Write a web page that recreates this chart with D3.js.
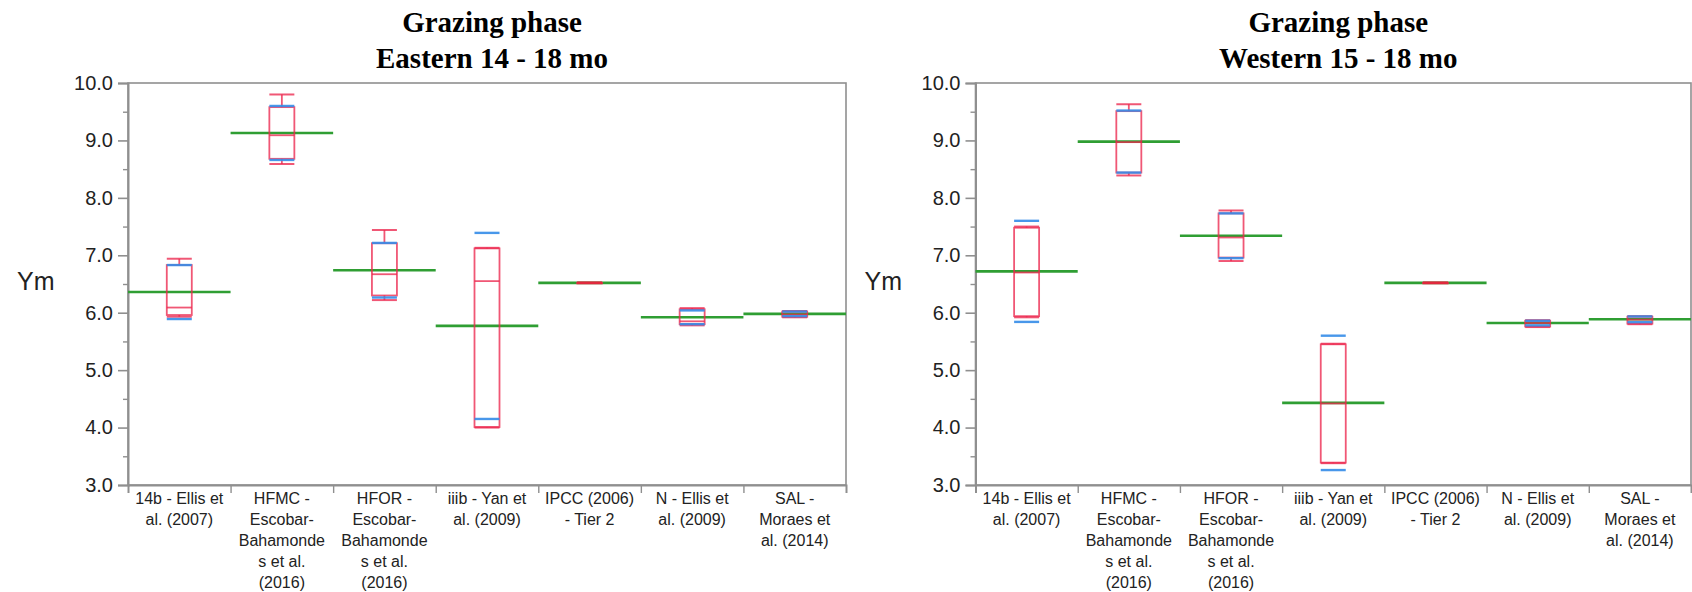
<!DOCTYPE html>
<html>
<head>
<meta charset="utf-8">
<script src="https://cdn.jsdelivr.net/npm/d3@7"></script>
<style>
  body { margin: 0; background: #fff; }
  svg { display: block; }
</style>
</head>
<body>
<svg id="chart" width="1692" height="592"></svg>
<script>
// Ym by method, grazing phase (box plots with means and std dev lines)
const categories = ["14b", "HFMC", "HFOR", "iiib", "IPCC", "N", "SAL"];
const categoryLabels = [
  ["14b - Ellis et", "al. (2007)"],
  ["HFMC -", "Escobar-", "Bahamonde", "s et al.", "(2016)"],
  ["HFOR -", "Escobar-", "Bahamonde", "s et al.", "(2016)"],
  ["iiib - Yan et", "al. (2009)"],
  ["IPCC (2006)", "- Tier 2"],
  ["N - Ellis et", "al. (2009)"],
  ["SAL -", "Moraes et", "al. (2014)"]
];
const yTicks = [3, 4, 5, 6, 7, 8, 9, 10];
const yMinorTicks = [3.5, 4.5, 5.5, 6.5, 7.5, 8.5, 9.5];

// Eastern 14 - 18 mo
const eastMin    = [5.93, 8.59, 6.22, 4.00, 6.52, 5.78, 5.92];
const eastQ1     = [5.96, 8.68, 6.30, 4.01, 6.52, 5.80, 5.93];
const eastMedian = [6.09, 9.09, 6.67, 6.55, 6.52, 5.85, 5.97];
const eastQ3     = [6.83, 9.58, 7.21, 7.12, 6.52, 6.06, 6.02];
const eastMax    = [6.94, 9.80, 7.44, 7.13, 6.52, 6.08, 6.03];
const eastMean   = [6.36, 9.13, 6.74, 5.77, 6.52, 5.92, 5.98];
const eastSD     = [0.47, 0.47, 0.475, 1.62, 0.0, 0.12, 0.04];

// Western 15 - 18 mo
const westMin    = [5.92, 8.39, 6.90, 3.38, 6.52, 5.75, 5.80];
const westQ1     = [5.94, 8.44, 6.96, 3.39, 6.52, 5.76, 5.81];
const westMedian = [6.70, 8.97, 7.31, 4.42, 6.52, 5.82, 5.88];
const westQ3     = [7.48, 9.51, 7.73, 5.45, 6.52, 5.86, 5.93];
const westMax    = [7.50, 9.63, 7.78, 5.46, 6.52, 5.87, 5.94];
const westMean   = [6.72, 8.98, 7.34, 4.43, 6.52, 5.82, 5.885];
const westSD     = [0.88, 0.54, 0.39, 1.17, 0.0, 0.04, 0.05];

const panels = [
  { title: ["Grazing phase", "Eastern 14 - 18 mo"], x0: 128, x1: 846,
    min: eastMin, q1: eastQ1, med: eastMedian, q3: eastQ3, max: eastMax, mean: eastMean, sd: eastSD },
  { title: ["Grazing phase", "Western 15 - 18 mo"], x0: 975.5, x1: 1691,
    min: westMin, q1: westQ1, med: westMedian, q3: westQ3, max: westMax, mean: westMean, sd: westSD }
];

const plotTop = 83, plotBottom = 485;
const boxW = 25;
const axisColor = "#8f8f8f";
const boxColor = "rgba(236, 40, 78, 0.78)";
const sdColor = "rgba(52, 140, 232, 0.9)";
const meanColor = "#2f9e33";
const textColor = "#222";

const svg = d3.select("#chart");

const y = d3.scaleLinear().domain([3, 10]).range([plotBottom, plotTop]);

panels.forEach(p => {
  const g = svg.append("g");
  const x = d3.scaleBand().domain(categories).range([p.x0, p.x1]).paddingInner(0).paddingOuter(0);
  const cx = c => x(c) + x.bandwidth() / 2;

  // title
  const cxTitle = (p.x0 + p.x1) / 2 + 5;
  p.title.forEach((line, k) => {
    g.append("text")
      .attr("x", cxTitle).attr("y", 32 + k * 36)
      .attr("text-anchor", "middle")
      .style("font-family", "'Liberation Serif', 'Times New Roman', serif")
      .style("font-weight", "bold").style("font-size", "29px")
      .attr("fill", "#000")
      .text(line);
  });

  // y axis title
  g.append("text")
    .attr("x", p.x0 - 111).attr("y", (plotTop + plotBottom) / 2 + 6)
    .style("font-family", "'Liberation Sans', Arial, sans-serif")
    .style("font-size", "25px").attr("fill", textColor)
    .text("Ym");

  // frame
  g.append("rect")
    .attr("x", p.x0).attr("y", plotTop)
    .attr("width", p.x1 - p.x0).attr("height", plotBottom - plotTop)
    .attr("fill", "none").attr("stroke", axisColor).attr("stroke-width", 1.6);

  // y axis major ticks
  const yAxis = d3.axisLeft(y).tickValues(yTicks).tickFormat(d3.format(".1f")).tickSize(10).tickPadding(5);
  const ya = g.append("g").attr("transform", `translate(${p.x0},0)`).call(yAxis);
  ya.select(".domain").attr("stroke", axisColor).attr("stroke-width", 2);
  ya.selectAll(".tick line").attr("stroke", axisColor).attr("stroke-width", 1.6);
  ya.selectAll(".tick text")
    .style("font-family", "'Liberation Sans', Arial, sans-serif")
    .style("font-size", "20px").attr("fill", textColor);

  // y axis minor ticks
  const yMinor = d3.axisLeft(y).tickValues(yMinorTicks).tickFormat("").tickSize(5);
  const ym = g.append("g").attr("transform", `translate(${p.x0},0)`).call(yMinor);
  ym.select(".domain").remove();
  ym.selectAll(".tick line").attr("stroke", axisColor).attr("stroke-width", 1.4);

  // x axis: dividers between categories
  const dividers = categories.slice(1).map(c => x(c));
  const xLin = d3.scaleLinear().domain([p.x0, p.x1]).range([p.x0, p.x1]);
  const xAxis = d3.axisBottom(xLin).tickValues(dividers).tickFormat("").tickSize(8);
  const xa = g.append("g").attr("transform", `translate(0,${plotBottom})`).call(xAxis);
  xa.select(".domain").attr("stroke", axisColor).attr("stroke-width", 2);
  xa.selectAll(".tick line").attr("stroke", axisColor).attr("stroke-width", 1.4);

  // category labels
  categories.forEach((c, i) => {
    const t = g.append("text")
      .attr("text-anchor", "middle")
      .style("font-family", "'Liberation Sans', Arial, sans-serif")
      .style("font-size", "16px").attr("fill", textColor);
    categoryLabels[i].forEach((line, k) => {
      t.append("tspan").attr("x", cx(c)).attr("y", 504 + k * 21).text(line);
    });
  });

  const data = categories.map((c, i) => ({
    c, min: p.min[i], q1: p.q1[i], med: p.med[i], q3: p.q3[i], max: p.max[i],
    mean: p.mean[i], sd: p.sd[i]
  }));

  // mean lines across each category
  g.selectAll(".mean").data(data).enter().append("line")
    .attr("x1", d => x(d.c)).attr("x2", d => x(d.c) + x.bandwidth())
    .attr("y1", d => y(d.mean)).attr("y2", d => y(d.mean))
    .attr("stroke", meanColor).attr("stroke-width", 2.6);

  const bx = g.selectAll(".box").data(data).enter().append("g");
  // whiskers
  bx.append("line")
    .attr("x1", d => cx(d.c)).attr("x2", d => cx(d.c))
    .attr("y1", d => y(d.q3)).attr("y2", d => y(d.max))
    .attr("stroke", boxColor).attr("stroke-width", 1.8);
  bx.append("line")
    .attr("x1", d => cx(d.c)).attr("x2", d => cx(d.c))
    .attr("y1", d => y(d.q1)).attr("y2", d => y(d.min))
    .attr("stroke", boxColor).attr("stroke-width", 1.8);
  // caps
  bx.append("line")
    .attr("x1", d => cx(d.c) - boxW / 2).attr("x2", d => cx(d.c) + boxW / 2)
    .attr("y1", d => y(d.max)).attr("y2", d => y(d.max))
    .attr("stroke", boxColor).attr("stroke-width", 2);
  bx.append("line")
    .attr("x1", d => cx(d.c) - boxW / 2).attr("x2", d => cx(d.c) + boxW / 2)
    .attr("y1", d => y(d.min)).attr("y2", d => y(d.min))
    .attr("stroke", boxColor).attr("stroke-width", 2);
  // box
  bx.append("rect")
    .attr("x", d => cx(d.c) - boxW / 2).attr("width", boxW)
    .attr("y", d => y(d.q3)).attr("height", d => Math.max(0.5, y(d.q1) - y(d.q3)))
    .attr("fill", "none").attr("stroke", boxColor).attr("stroke-width", 1.8);
  // median
  bx.append("line")
    .attr("x1", d => cx(d.c) - boxW / 2).attr("x2", d => cx(d.c) + boxW / 2)
    .attr("y1", d => y(d.med)).attr("y2", d => y(d.med))
    .attr("stroke", boxColor).attr("stroke-width", 1.8);

  // std dev lines
  const sdData = data.filter(d => d.sd > 0);
  g.selectAll(".sdHi").data(sdData).enter().append("line")
    .attr("x1", d => cx(d.c) - boxW / 2).attr("x2", d => cx(d.c) + boxW / 2)
    .attr("y1", d => y(d.mean + d.sd)).attr("y2", d => y(d.mean + d.sd))
    .attr("stroke", sdColor).attr("stroke-width", 2.4);
  g.selectAll(".sdLo").data(sdData).enter().append("line")
    .attr("x1", d => cx(d.c) - boxW / 2).attr("x2", d => cx(d.c) + boxW / 2)
    .attr("y1", d => y(d.mean - d.sd)).attr("y2", d => y(d.mean - d.sd))
    .attr("stroke", sdColor).attr("stroke-width", 2.4);

  // single-value category: short marker over the mean line
  g.selectAll(".single").data(data.filter(d => d.sd === 0)).enter().append("line")
    .attr("x1", d => cx(d.c) - boxW / 2).attr("x2", d => cx(d.c) + boxW / 2)
    .attr("y1", d => y(d.mean)).attr("y2", d => y(d.mean))
    .attr("stroke", "#e0283c").attr("stroke-width", 2.6);
});
</script>
</body>
</html>
